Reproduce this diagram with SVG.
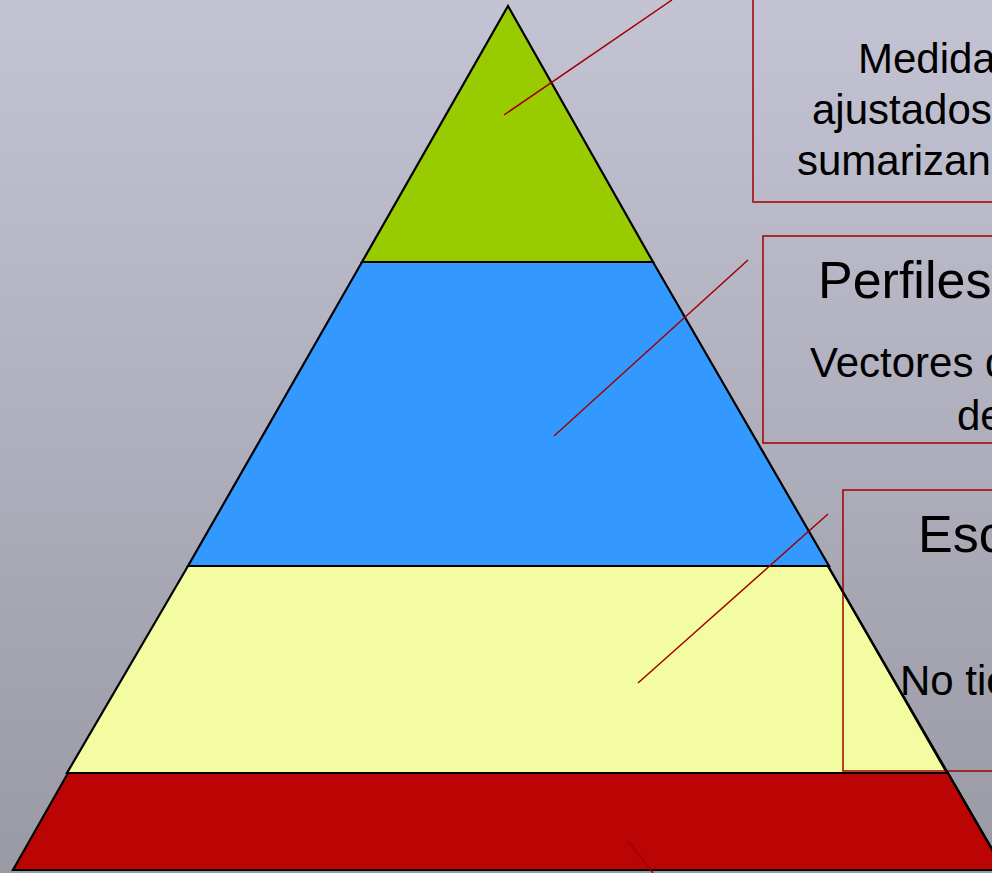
<svg xmlns="http://www.w3.org/2000/svg" width="992" height="873" viewBox="0 0 992 873">
<defs>
<linearGradient id="bg" x1="0" y1="0" x2="0" y2="1">
<stop offset="0" stop-color="#c3c3d4"/>
<stop offset="1" stop-color="#9a9aa5"/>
</linearGradient>
</defs>
<style>
.lvl{stroke:#000;stroke-width:2.2;stroke-linejoin:miter}
.box{fill:none;stroke:#a00000;stroke-width:1.5}
.lead{stroke:#a00000;stroke-width:1.5;fill:none}
text{font-family:"Liberation Sans",Arial,sans-serif;fill:#000}
.t{font-size:52px}
.b{font-size:42px}
</style>
<rect x="0" y="0" width="992" height="873" fill="url(#bg)"/>
<g id="level-4">
<polygon class="lvl" fill="#bb0505" points="68,773 948,773 1004,870 13,870"/>
</g>
<g id="level-3">
<polygon class="lvl" fill="#f4fca2" points="188,566 828,566 947,773 67,773"/>
</g>
<g id="level-2">
<polygon class="lvl" fill="#3399ff" points="362,262 653,262 829,566 188,566"/>
</g>
<g id="level-1">
<polygon class="lvl" fill="#99cc00" points="508,6 653,262 362,262"/>
</g>
<g id="box-1">
<rect class="box" x="753" y="-10" width="260" height="212"/>
<text class="b" x="858" y="73">Medida</text>
<text class="b" x="812" y="124">ajustados</text>
<text class="b" x="797" y="175">sumarizan</text>
</g>
<g id="box-2">
<rect class="box" x="763" y="236" width="250" height="207"/>
<text class="t" x="818" y="298">Perfiles</text>
<text class="b" x="810" y="377">Vectores d</text>
<text class="b" x="957" y="430">de</text>
</g>
<g id="box-3">
<rect class="box" x="843" y="490" width="170" height="281"/>
<text class="t" x="918" y="552">Esc</text>
<text class="b" x="900" y="695">No tie</text>
</g>
<g id="edge">
<line class="lvl" x1="828" y1="566" x2="1004" y2="870"/>
</g>
<g id="connectors">
<line class="lead" x1="504" y1="115" x2="672" y2="0"/>
<line class="lead" x1="554" y1="436" x2="748" y2="260"/>
<line class="lead" x1="638" y1="683" x2="828" y2="514"/>
<line class="lead" x1="628" y1="841" x2="653" y2="873"/>
</g>
</svg>
